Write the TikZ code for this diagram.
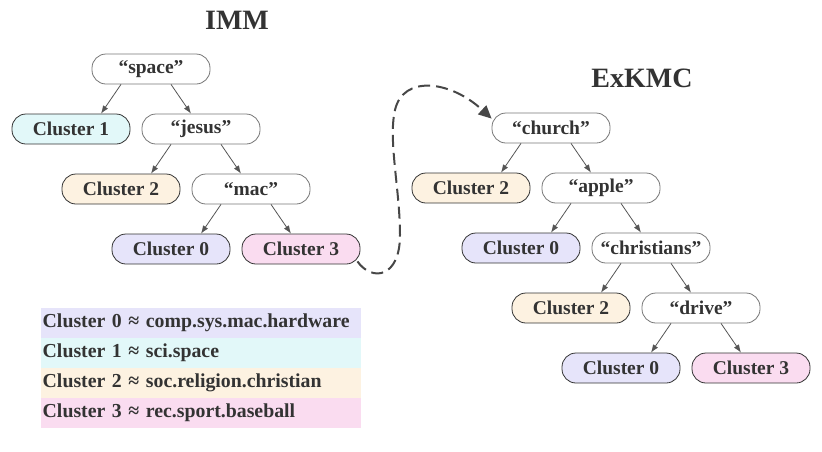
\documentclass[tikz,border=0pt]{standalone}
\usepackage{fontspec}
\setmainfont{Liberation Serif}
\usetikzlibrary{arrows.meta,calc}
\definecolor{txt}{HTML}{333333}
\definecolor{czero}{HTML}{E6E4FA}
\definecolor{cone}{HTML}{E2F8F9}
\definecolor{ctwo}{HTML}{FDF2E1}
\definecolor{cthree}{HTML}{FADCF0}
\definecolor{edgec}{HTML}{555555}
\tikzset{
  base/.style={rounded corners=14pt, minimum width=118pt, minimum height=30pt, inner sep=0pt,
    font=\fontsize{19.5}{21}\selectfont\bfseries, text=txt, line width=0.8pt},
  split/.style={base, draw=edgec!80, fill=white},
  leaf/.style={base, draw=txt},
  edge/.style={draw=edgec, line width=0.8pt, -{Latex[length=8pt,width=6pt]}},
  ttl/.style={font=\fontsize{28}{30}\selectfont\bfseries, text=txt},
  leg/.style={minimum width=320pt, minimum height=30pt, inner sep=0pt, anchor=north west,
    text width=317pt, align=left, font=\fontsize{19.8}{21}\selectfont\bfseries, text=txt}
}
\begin{document}
\begin{tikzpicture}[x=1pt,y=-1pt]
\useasboundingbox (0,0) rectangle (822,451);
% titles
\node[ttl] (t1) at (237,20) {IMM};
\node[ttl] (t2) at (642,78) {ExKMC};
% IMM tree
\node[split] (space) at (151,69) {“space”};
\node[leaf,fill=cone] (a1) at (71,129) {Cluster 1};
\node[split] (jesus) at (201,129) {“jesus”};
\node[leaf,fill=ctwo] (a2) at (121,189) {Cluster 2};
\node[split] (mac) at (251,189) {“mac”};
\node[leaf,fill=czero] (a0) at (171,249) {Cluster 0};
\node[leaf,fill=cthree] (a3) at (301,249) {Cluster 3};
\draw[edge] ($(space.south)+(-30,0)$) -- ($(a1.north)+(30,0)$);
\draw[edge] ($(space.south)+(20,0)$) -- ($(jesus.north)+(-10,0)$);
\draw[edge] ($(jesus.south)+(-30,0)$) -- ($(a2.north)+(30,0)$);
\draw[edge] ($(jesus.south)+(20,0)$) -- ($(mac.north)+(-10,0)$);
\draw[edge] ($(mac.south)+(-30,0)$) -- ($(a0.north)+(30,0)$);
\draw[edge] ($(mac.south)+(20,0)$) -- ($(a3.north)+(-10,0)$);
% ExKMC tree
\node[split] (church) at (551,128) {“church”};
\node[leaf,fill=ctwo] (b2) at (471,188) {Cluster 2};
\node[split] (apple) at (601,188) {“apple”};
\node[leaf,fill=czero] (b0) at (521,248) {Cluster 0};
\node[split] (chr) at (651,248) {“christians”};
\node[leaf,fill=ctwo] (c2) at (571,308) {Cluster 2};
\node[split] (drive) at (701,308) {“drive”};
\node[leaf,fill=czero] (c0) at (621,368) {Cluster 0};
\node[leaf,fill=cthree] (c3) at (751,368) {Cluster 3};
\draw[edge] ($(church.south)+(-30,0)$) -- ($(b2.north)+(30,0)$);
\draw[edge] ($(church.south)+(20,0)$) -- ($(apple.north)+(-10,0)$);
\draw[edge] ($(apple.south)+(-30,0)$) -- ($(b0.north)+(30,0)$);
\draw[edge] ($(apple.south)+(20,0)$) -- ($(chr.north)+(-10,0)$);
\draw[edge] ($(chr.south)+(-30,0)$) -- ($(c2.north)+(30,0)$);
\draw[edge] ($(chr.south)+(20,0)$) -- ($(drive.north)+(-10,0)$);
\draw[edge] ($(drive.south)+(-30,0)$) -- ($(c0.north)+(30,0)$);
\draw[edge] ($(drive.south)+(20,0)$) -- ($(c3.north)+(-10,0)$);
% dashed link
\coordinate (ds) at ($(a3.south east)+(-3,-3)$);
\draw[draw=txt!90, line width=2pt, dash pattern=on 12pt off 6pt, -{Triangle[length=13pt,width=12pt]}]
  (ds) .. controls (372,282) and (400,278) .. (400,235)
  .. controls (400,190) and (388,140) .. (395,110)
  .. controls (403,75) and (450,80) .. ($(church.north west)+(0,6)$);
% legend
\node[leg,fill=czero] (l0) at (41,308) {Cluster 0 ≈ comp.sys.mac.hardware};
\node[leg,fill=cone] (l1) at (41,338) {Cluster 1 ≈ sci.space};
\node[leg,fill=ctwo] (l2) at (41,368) {Cluster 2 ≈ soc.religion.christian};
\node[leg,fill=cthree] (l3) at (41,398) {Cluster 3 ≈ rec.sport.baseball};
\end{tikzpicture}
\end{document}
